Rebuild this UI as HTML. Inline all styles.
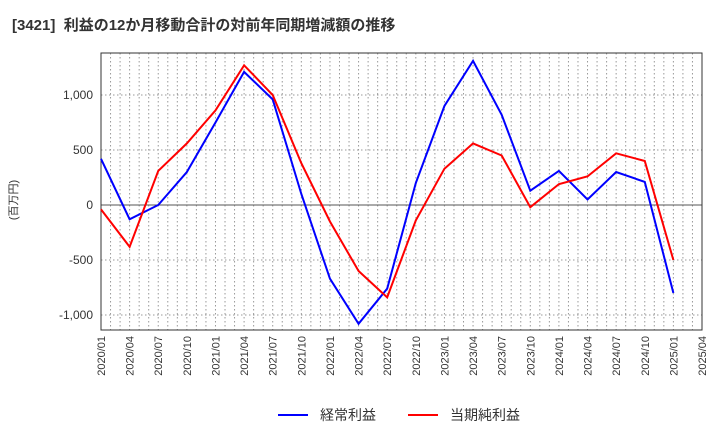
<!DOCTYPE html>
<html><head><meta charset="utf-8"><style>
body{margin:0;background:#fff;font-family:"Liberation Sans","Noto Sans CJK JP",sans-serif}
</style></head><body>
<svg id="c" width="720" height="440" xmlns="http://www.w3.org/2000/svg">
<text x="12" y="30" font-size="15" font-weight="bold" fill="#333" xml:space="preserve" style="white-space:pre" font-family="Liberation Sans,Noto Sans CJK JP,sans-serif">[3421]  利益の12か月移動合計の対前年同期増減額の推移</text>
<text transform="translate(17,200) rotate(-90)" font-size="11" fill="#333" text-anchor="middle" font-family="Liberation Sans,Noto Sans CJK JP,sans-serif">(百万円)</text>
<g id="grid"></g><g id="axes"></g><g id="series"></g>
<g>
<line x1="278" y1="415" x2="308" y2="415" stroke="#0000ff" stroke-width="2"/>
<text x="320" y="420" font-size="14" fill="#333" font-family="Liberation Sans,Noto Sans CJK JP,sans-serif">経常利益</text>
<line x1="408" y1="415" x2="438" y2="415" stroke="#ff0000" stroke-width="2"/>
<text x="450" y="420" font-size="14" fill="#333" font-family="Liberation Sans,Noto Sans CJK JP,sans-serif">当期純利益</text>
</g>
</svg>
<script>
const categories=["2020/01","2020/04","2020/07","2020/10","2021/01","2021/04","2021/07","2021/10","2022/01","2022/04","2022/07","2022/10","2023/01","2023/04","2023/07","2023/10","2024/01","2024/04","2024/07","2024/10","2025/01","2025/04"];
const keijo=[420,-130,0,300,750,1210,960,100,-670,-1080,-760,200,900,1310,820,130,310,50,300,210,-800];
const junrieki=[-40,-380,310,560,860,1270,1000,380,-150,-600,-840,-140,330,560,450,-20,190,260,470,400,-500];
const yTicks=[-1000,-500,0,500,1000];
const yTickLabels=["-1,000","-500","0","500","1,000"];
const NS="http://www.w3.org/2000/svg";
const L=101,R=702,T=53,B=330;
const xs=i=>L+(R-L)*i/(categories.length-1);
const ys=v=>205-v*0.11;
function mk(tag,attrs,parent){const e=document.createElementNS(NS,tag);for(const k in attrs)e.setAttribute(k,attrs[k]);document.getElementById(parent).appendChild(e);return e;}
for(let m=1;m<(categories.length-1)*3;m++){const x=L+(R-L)*m/((categories.length-1)*3);
const g=mk('line',{x1:x,x2:x,y1:T,y2:B,stroke:'#999','stroke-dasharray':'1.5,2.5','stroke-width':1},'grid');

}
yTicks.forEach((v,i)=>{const y=ys(v);
const g=mk('line',{x1:L,x2:R,y1:y,y2:y,stroke:v===0?'#555':'#999','stroke-dasharray':v===0?'':'1.5,2.5','stroke-width':1},'grid');


const t=mk('text',{x:L-8,y:y+4,'font-size':12,fill:'#333','text-anchor':'end'},'axes');t.textContent=yTickLabels[i];

});
const fr=mk('rect',{x:L,y:T,width:R-L,height:B-T,fill:'none',stroke:'#333','stroke-width':1},'axes');


categories.forEach((c,i)=>{const x=xs(i);
const t=mk('text',{transform:`translate(${x+4},${B+6}) rotate(-90)`,'font-size':11,fill:'#333','text-anchor':'end'},'axes');t.textContent=c;

});
function line(arr,color,name){const p=mk('polyline',{points:arr.map((v,i)=>xs(i)+','+ys(v)).join(' '),fill:'none',stroke:color,'stroke-width':2,'stroke-linejoin':'miter'},'series');

}
line(keijo,'#0000ff','series-keijo-rieki');
line(junrieki,'#ff0000','series-touki-junrieki');
</script>
</body></html>
